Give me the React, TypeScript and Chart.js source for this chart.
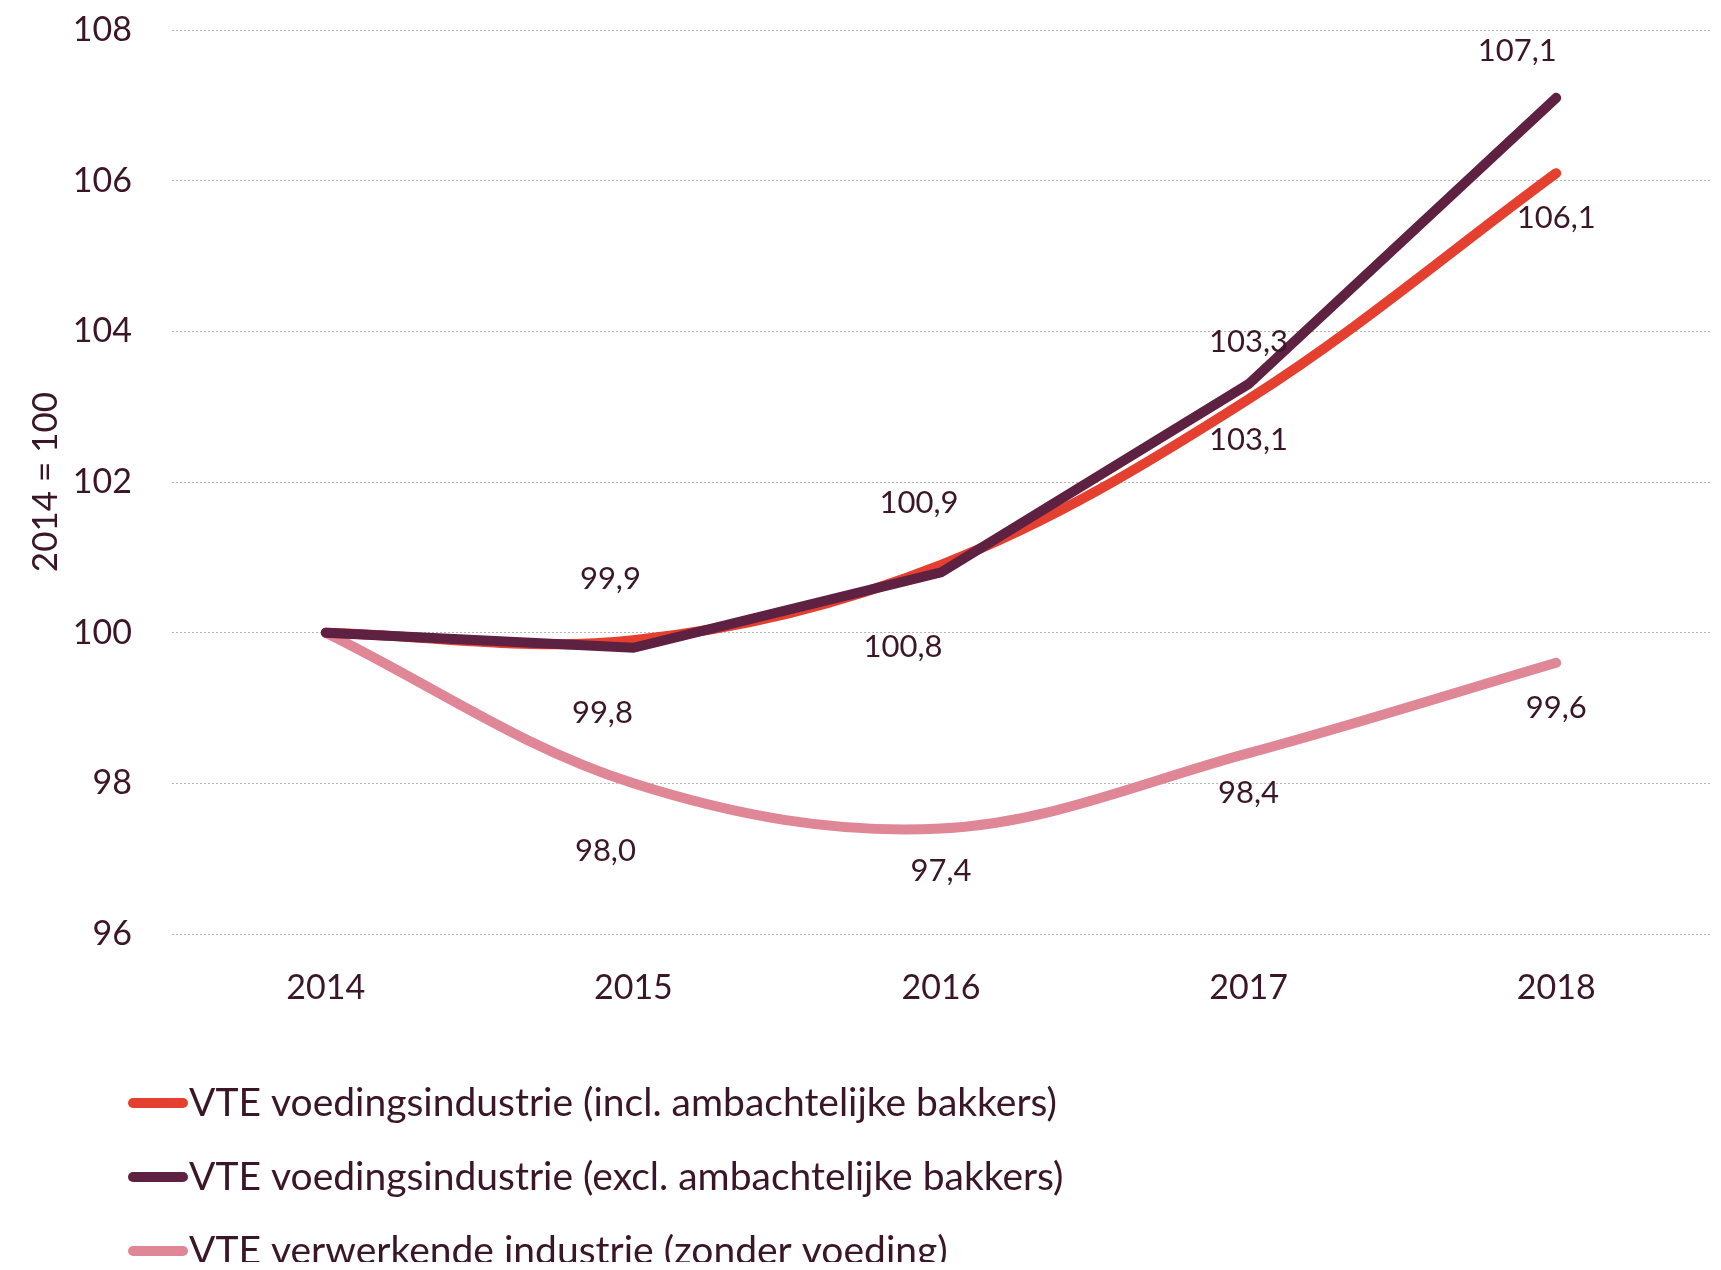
import React, { useEffect, useRef } from "react";
import { Chart, registerables } from "chart.js";

Chart.register(...registerables);

const categories = ["2014", "2015", "2016", "2017", "2018"];
const seriesNames = [
  "VTE voedingsindustrie (incl. ambachtelijke bakkers)",
  "VTE voedingsindustrie (excl. ambachtelijke bakkers)",
  "VTE verwerkende industrie (zonder voeding)",
];
const inclValues = [100, 99.9, 100.9, 103.1, 106.1];
const exclValues = [100, 99.8, 100.8, 103.3, 107.1];
const verwValues = [100, 98.0, 97.4, 98.4, 99.6];
const yTicks = [96, 98, 100, 102, 104, 106, 108];
const yTitle = "2014 = 100";

// label placement (styling): [dx, dy] per point, null = no label
const inclLabelPos: ([number, number] | null)[] = [null, [-23, -61], [-22, -62], [0, 41], [0, 45]];
const exclLabelPos: ([number, number] | null)[] = [null, [-31, 65], [-38, 75], [0, -42], [-39, -47]];
const verwLabelPos: ([number, number] | null)[] = [null, [-28, 68], [0, 42], [0, 40], [0, 45]];

const COLORS = ["#E5402F", "#5F2142", "#DF8796"];
const TEXT = "#3A1628";
const FONT = "Lato, 'Open Sans', sans-serif";

export default function App() {
  const ref = useRef<HTMLCanvasElement | null>(null);

  useEffect(() => {
    if (!ref.current) return;
    const labelPositions = [inclLabelPos, exclLabelPos, verwLabelPos];

    const labelPlugin = {
      id: "dataLabels",
      afterDatasetsDraw(chart: any) {
        const ctx = chart.ctx;
        ctx.save();
        ctx.font = `31px ${FONT}`;
        ctx.fillStyle = TEXT;
        ctx.textAlign = "center";
        ctx.textBaseline = "middle";
        chart.data.datasets.forEach((ds: any, di: number) => {
          const meta = chart.getDatasetMeta(di);
          meta.data.forEach((pt: any, i: number) => {
            const pos = labelPositions[di][i];
            if (!pos) return;
            const txt = Number(ds.data[i]).toFixed(1).replace(".", ",");
            ctx.fillText(txt, pt.x + pos[0], pt.y + pos[1]);
          });
        });
        ctx.restore();
      },
    };

    const legendPlugin = {
      id: "customLegend",
      afterDraw(chart: any) {
        const ctx = chart.ctx;
        ctx.save();
        ctx.font = `39px ${FONT}`;
        ctx.textBaseline = "middle";
        ctx.textAlign = "left";
        const rows = [1095, 1169, 1243];
        seriesNames.forEach((name, i) => {
          const y = rows[i];
          ctx.strokeStyle = COLORS[i];
          ctx.lineWidth = 10;
          ctx.lineCap = "round";
          ctx.beginPath();
          ctx.moveTo(125, y);
          ctx.lineTo(175, y);
          ctx.stroke();
          ctx.fillStyle = TEXT;
          ctx.fillText(name, 181, y);
        });
        ctx.restore();
      },
    };

    const chart = new Chart(ref.current, {
      type: "line",
      data: {
        labels: categories,
        datasets: [
          {
            label: seriesNames[0],
            data: inclValues,
            borderColor: COLORS[0],
            backgroundColor: COLORS[0],
            borderWidth: 10,
            tension: 0.35,
            pointRadius: 0,
            borderCapStyle: "round",
            borderJoinStyle: "round",
            order: 1,
          },
          {
            label: seriesNames[1],
            data: exclValues,
            borderColor: COLORS[1],
            backgroundColor: COLORS[1],
            borderWidth: 10,
            tension: 0,
            pointRadius: 0,
            borderCapStyle: "round",
            borderJoinStyle: "miter",
            order: 0,
          },
          {
            label: seriesNames[2],
            data: verwValues,
            borderColor: COLORS[2],
            backgroundColor: COLORS[2],
            borderWidth: 10,
            tension: 0.35,
            pointRadius: 0,
            borderCapStyle: "round",
            borderJoinStyle: "round",
            order: 2,
          },
        ],
      },
      options: {
        responsive: false,
        animation: false,
        layout: { padding: { top: 22, right: 3, left: 0, bottom: 264 } },
        plugins: {
          legend: { display: false },
          tooltip: { enabled: false },
        },
        scales: {
          x: {
            offset: true,
            grid: { display: false, drawTicks: false },
            border: { display: false },
            ticks: { color: TEXT, font: { size: 34, family: FONT }, padding: 34 },
            afterFit: (s: any) => {
              s.height = 100;
              s.paddingLeft = 0;
              s.paddingRight = 0;
            },
          },
          y: {
            min: 96,
            max: 108,
            afterBuildTicks: (s: any) => {
              s.ticks = yTicks.map((v) => ({ value: v }));
            },
            grid: {
              color: "#b5b5b5",
              lineWidth: 1,
              drawTicks: false,
            },
            border: { display: false, dash: [2, 2] },
            ticks: { color: TEXT, font: { size: 34, family: FONT }, padding: 40 },
            title: {
              display: true,
              text: yTitle,
              color: TEXT,
              font: { size: 35, family: FONT },
              padding: { top: 17, bottom: 0 },
            },
            afterFit: (s: any) => {
              s.width = 164;
              s.paddingTop = 0;
              s.paddingBottom = 0;
            },
          },
        },
      },
      plugins: [labelPlugin, legendPlugin],
    } as any);
    return () => chart.destroy();
  }, []);

  return (
    <div style={{ width: 1705, height: 1262, marginBottom: -8, overflow: "hidden", position: "relative" }}>
      <canvas ref={ref} width={1705} height={1290} style={{ display: "block" }} />
    </div>
  );
}
